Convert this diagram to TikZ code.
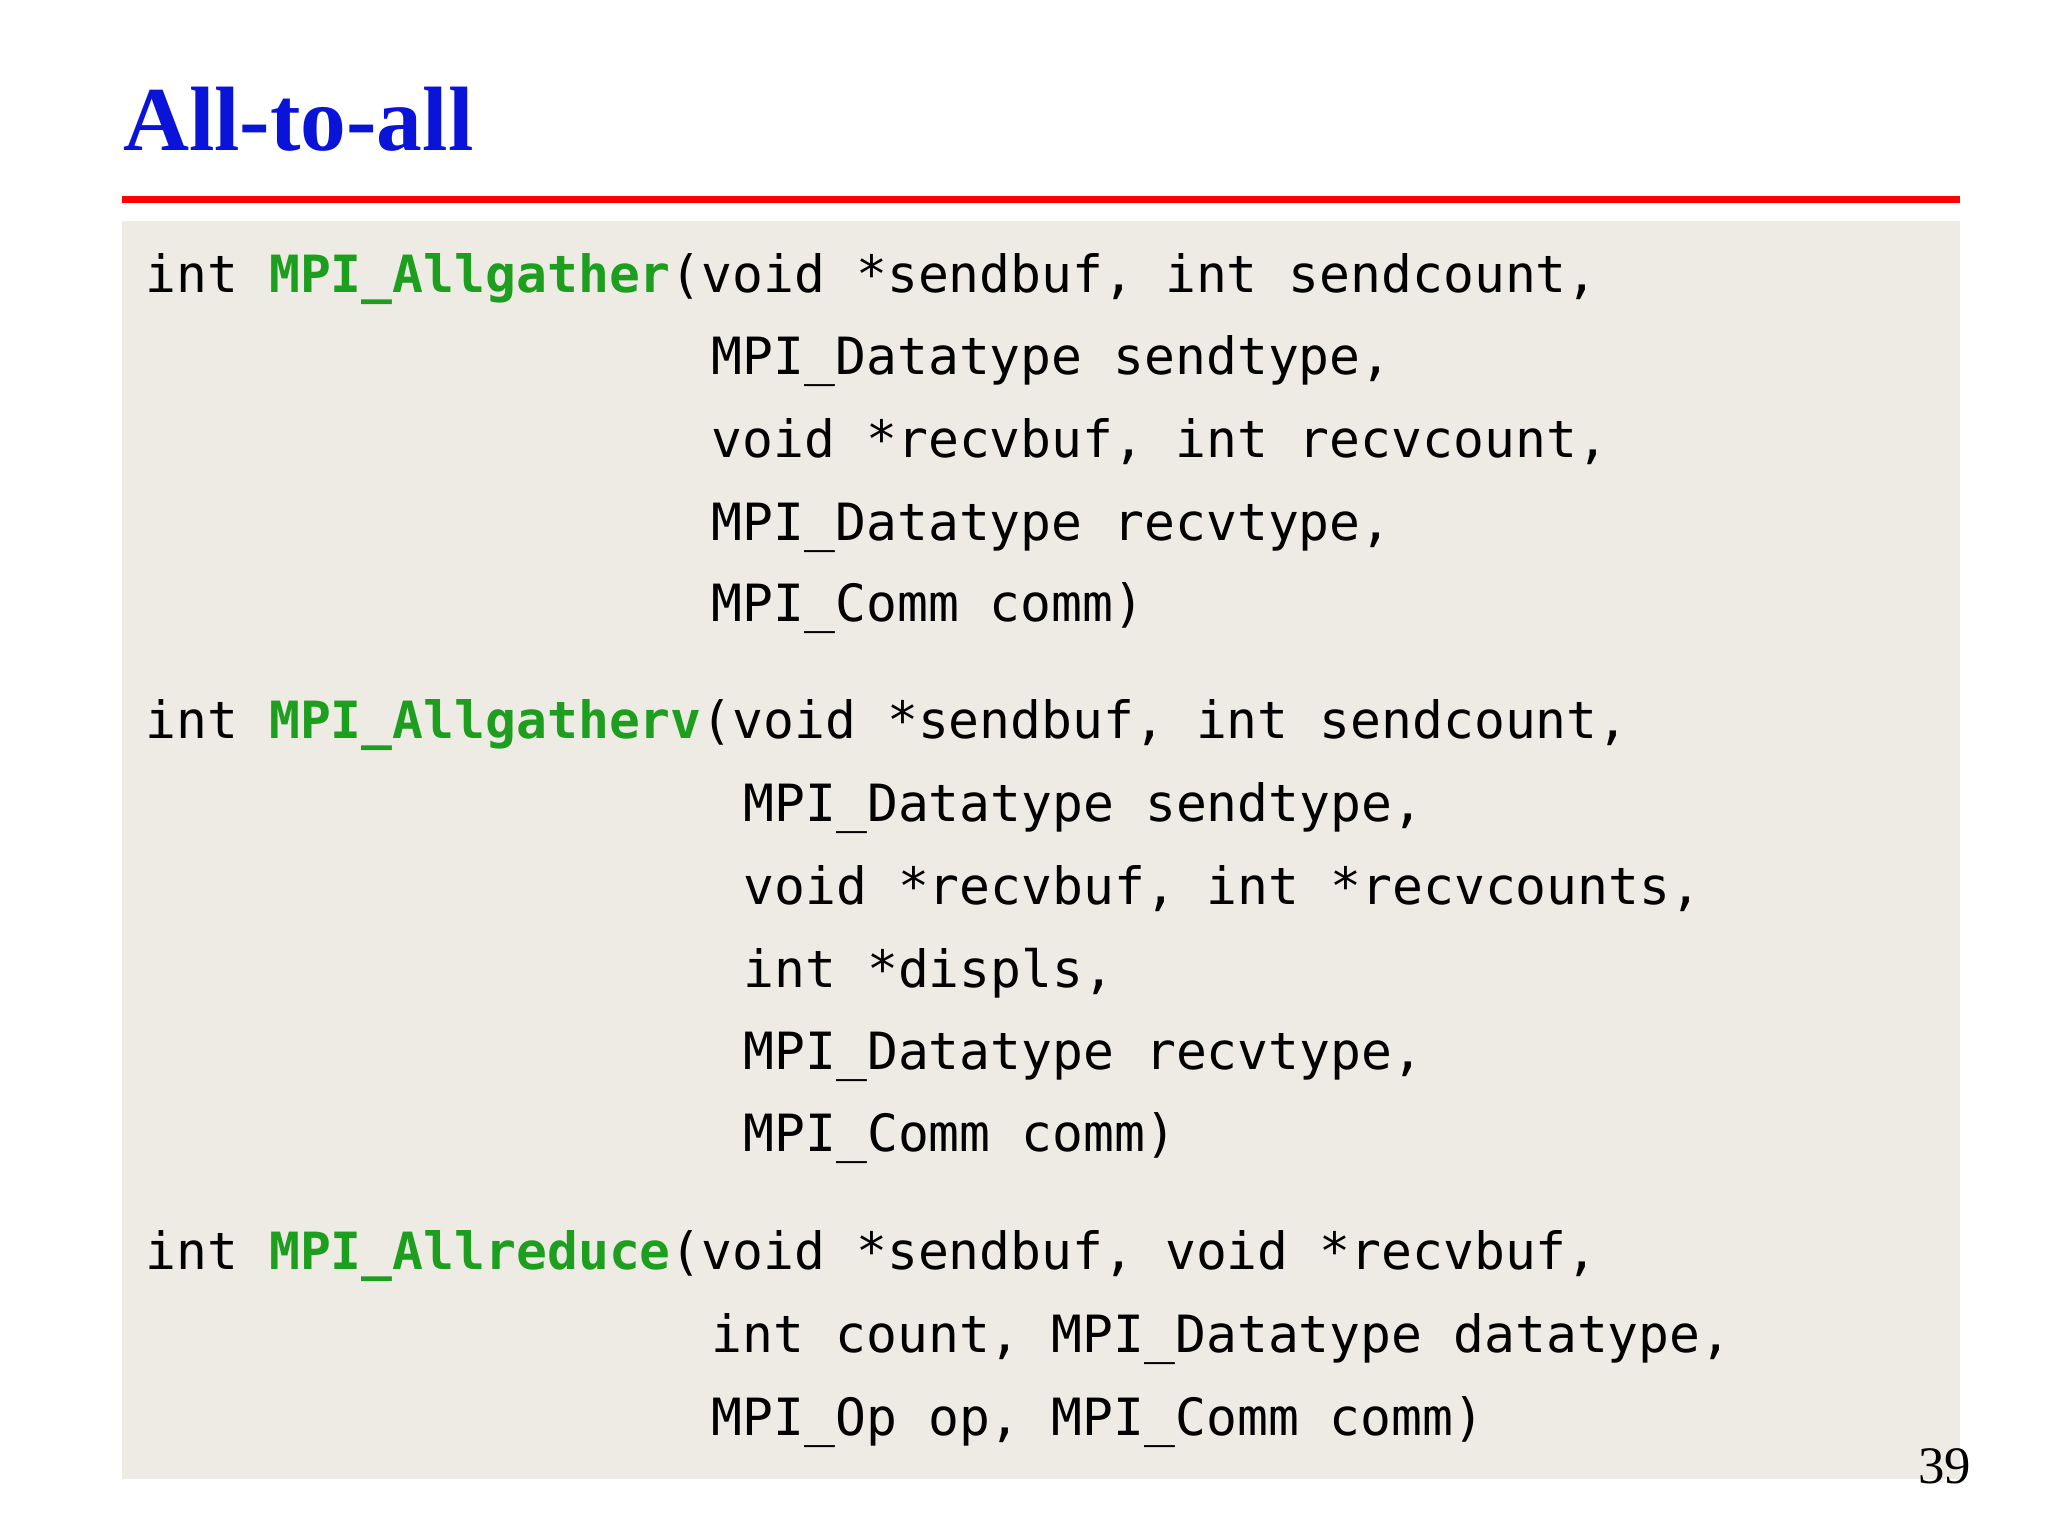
\documentclass[tikz,border=0pt]{standalone}
\usepackage{fontspec}
\setmainfont{Liberation Serif}
\setmonofont{DejaVu Sans Mono}
\definecolor{boxgray}{HTML}{EEEBE4}
\definecolor{fgreen}{HTML}{1E9E1E}
\definecolor{tblue}{HTML}{0A14D8}
\newcommand{\fn}[1]{\textcolor{fgreen}{\bfseries #1}}
\begin{document}
\begin{tikzpicture}[x=0.01317cm,y=-0.01317cm,
  code/.style={anchor=base west,inner sep=0pt,font=\ttfamily\fontsize{14.6}{16}\selectfont}]
\useasboundingbox[fill=white] (0,0) rectangle (1555,1166);
\node[anchor=base west,inner sep=0pt,text=tblue,font=\bfseries\fontsize{26}{30}\selectfont] (title) at (93,114) {All-to-all};
\fill[red] (93,148.5) rectangle (1488,154);
\fill[boxgray] (93,168) rectangle (1488,1123);
\node[code] (a1) at (110,222) {int \fn{MPI\_Allgather}(void *sendbuf, int sendcount,};
\node[code] (a2) at (540,284) {MPI\_Datatype sendtype,};
\node[code] (a3) at (540,347) {void *recvbuf, int recvcount,};
\node[code] (a4) at (540,410) {MPI\_Datatype recvtype,};
\node[code] (a5) at (540,472) {MPI\_Comm comm)};
\node[code] (b1) at (110,561) {int \fn{MPI\_Allgatherv}(void *sendbuf, int sendcount,};
\node[code] (b2) at (564,624) {MPI\_Datatype sendtype,};
\node[code] (b3) at (564,687) {void *recvbuf, int *recvcounts,};
\node[code] (b4) at (564,750) {int *displs,};
\node[code] (b5) at (564,812) {MPI\_Datatype recvtype,};
\node[code] (b6) at (564,874) {MPI\_Comm comm)};
\node[code] (c1) at (110,964) {int \fn{MPI\_Allreduce}(void *sendbuf, void *recvbuf,};
\node[code] (c2) at (540,1027) {int count, MPI\_Datatype datatype,};
\node[code] (c3) at (540,1090) {MPI\_Op op, MPI\_Comm comm)};
\node[anchor=base east,inner sep=0pt,font=\fontsize{15}{18}\selectfont] (pg) at (1497,1126) {39};
\end{tikzpicture}
\end{document}
